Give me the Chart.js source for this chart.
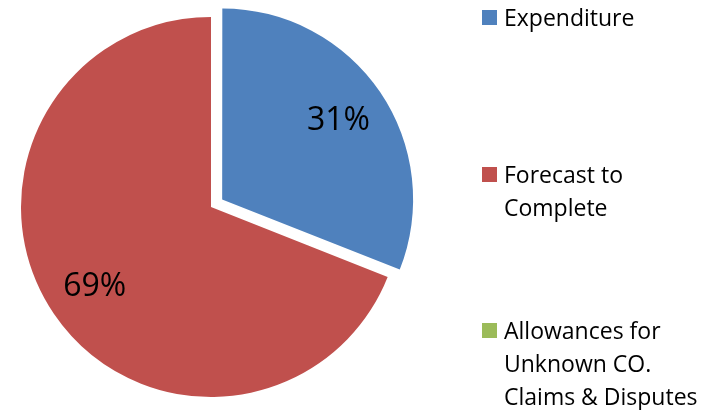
<!DOCTYPE html>
<html>
<head>
<meta charset="utf-8">
<script src="https://cdn.jsdelivr.net/npm/chart.js@4/dist/chart.umd.min.js"></script>
<style>
    body { margin: 0; background: #fff; }
    #wrap { position: relative; width: 716px; height: 410px; }
    #legend { position: absolute; left: 0; top: 0; font-family: "Open Sans", sans-serif; font-size: 23px; line-height: 33px; color: #000; }
    .legend-item { position: absolute; left: 482px; white-space: nowrap; }
    .legend-box { position: absolute; left: 0; top: 9px; width: 15px; height: 15px; }
    .legend-text { position: absolute; left: 22px; top: 0; }
</style>
</head>
<body>
<div id="wrap">
    <canvas id="pieChart" width="716" height="410"></canvas>
    <div id="legend"></div>
</div>
<script>
// Chart data
const categories = ['Expenditure', 'Forecast to Complete', 'Allowances for Unknown CO. Claims & Disputes'];
const legendLines = [['Expenditure'], ['Forecast to', 'Complete'], ['Allowances for', 'Unknown CO.', 'Claims & Disputes']];
const shares = [31, 69, 0];
const sliceColors = ['#4F81BD', '#C0504D', '#9BBB59'];
const sliceOffsets = [54, 0, 0];

// Percent labels inside the slices
const percentLabels = {
    id: 'percentLabels',
    afterDatasetsDraw(chart) {
        const ctx = chart.ctx;
        const meta = chart.getDatasetMeta(0);
        const total = shares.reduce((a, b) => a + b, 0);
        ctx.save();
        ctx.font = '32px "Open Sans", sans-serif';
        ctx.fillStyle = '#000';
        ctx.textAlign = 'center';
        ctx.textBaseline = 'middle';
        meta.data.forEach((arc, i) => {
            if (!shares[i]) return;
            const mid = (arc.startAngle + arc.endAngle) / 2;
            const dist = sliceOffsets[i] / 4 + arc.outerRadius * 0.74;
            const x = arc.x + Math.cos(mid) * dist;
            const y = arc.y + Math.sin(mid) * dist;
            ctx.fillText(Math.round(shares[i] / total * 100) + '%', x, y + 1);
        });
        ctx.restore();
    }
};

new Chart(document.getElementById('pieChart'), {
    type: 'pie',
    data: {
        labels: categories,
        datasets: [{
            data: shares,
            backgroundColor: sliceColors,
            borderWidth: 0,
            offset: sliceOffsets
        }]
    },
    options: {
        responsive: false,
        animation: false,
        radius: 190,
        layout: { padding: { left: 0, right: 294, top: 4, bottom: 0 } },
        plugins: {
            legend: { display: false },
            tooltip: { enabled: false }
        }
    },
    plugins: [percentLabels]
});

// Legend on the right
const legendTops = [1, 158, 314];
const legendEl = document.getElementById('legend');
legendLines.forEach((lines, i) => {
    const item = document.createElement('div');
    item.className = 'legend-item';
    item.style.top = legendTops[i] + 'px';
    item.innerHTML = `<div class="legend-box" style="background:${sliceColors[i]}"></div>` +
        `<div class="legend-text">${lines.join('<br>').replace('&', '&amp;')}</div>`;
    legendEl.appendChild(item);
});
</script>
</body>
</html>
